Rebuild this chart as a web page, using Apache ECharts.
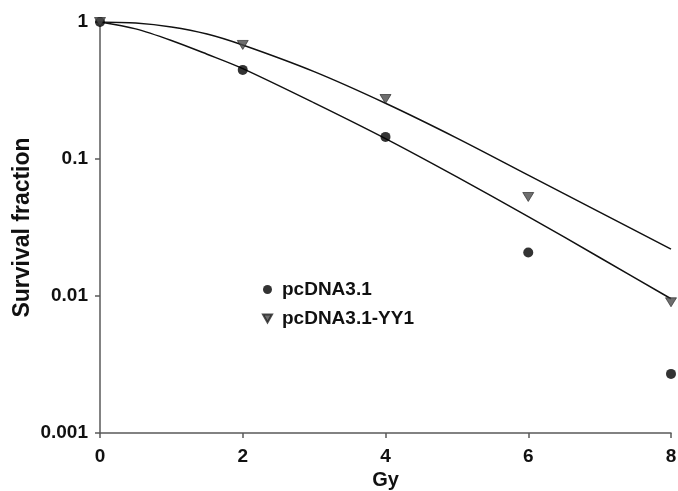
<!DOCTYPE html>
<html>
<head>
<meta charset="utf-8">
<script src="https://cdn.jsdelivr.net/npm/echarts@6/dist/echarts.min.js"></script>
<style>
  html, body { margin: 0; padding: 0; background: #fff; }
  #chart { width: 678px; height: 491px; }
</style>
</head>
<body>
<div id="chart"></div>
<script>
// measured survival points
const doses = [0, 2, 4, 6, 8]
const ctrlSurvival = [1, 0.447, 0.145, 0.0208, 0.0027]
const yy1Survival = [1, 0.68, 0.274, 0.0528, 0.009]

// fitted curves
const fitDoses = [0, 0.5, 1, 1.5, 2, 3, 4, 5, 6, 7, 8]
const ctrlFit = [1, 0.891, 0.733, 0.582, 0.457, 0.257, 0.141, 0.0741, 0.038, 0.0191, 0.00955]
const yy1Fit = [1, 0.983, 0.92, 0.817, 0.679, 0.434, 0.255, 0.142, 0.0762, 0.0409, 0.022]

const xTicks = [0, 2, 4, 6, 8]
const yTicks = [0.001, 0.01, 0.1, 1]

const names = ['pcDNA3.1', 'pcDNA3.1-YY1']
const downTriangle = 'path://M0,0 L10,0 L5,9 Z'

const pair = (xs, ys) => xs.map((x, i) => [x, ys[i]])

const chart = echarts.init(document.getElementById('chart'))

const font = 'Liberation Sans'
const axisColor = '#5a5a5a'

const option = {
  animation: false,
  grid: { left: 100, right: 7, top: 22, bottom: 58, outerBoundsMode: 'none' },
  legend: {
    orient: 'vertical',
    left: 257,
    top: 275,
    itemWidth: 9,
    itemHeight: 9,
    itemGap: 10,
    textStyle: { fontFamily: font, fontWeight: 'bold', fontSize: 19, color: '#111', padding: [0, 0, 0, 5] },
    data: [
      { name: names[0], icon: 'circle' },
      { name: names[1], icon: downTriangle }
    ]
  },
  xAxis: {
    type: 'value',
    min: xTicks[0],
    max: xTicks[xTicks.length - 1],
    interval: 2,
    name: 'Gy',
    nameLocation: 'middle',
    nameGap: 37,
    nameMoveOverlap: false,
    nameTextStyle: { fontFamily: font, fontWeight: 'bold', fontSize: 20, color: '#111' },
    axisLine: { lineStyle: { color: axisColor, width: 1.5 } },
    axisTick: { show: true, length: 5, lineStyle: { color: axisColor, width: 1.5 } },
    axisLabel: { fontFamily: font, fontWeight: 'bold', fontSize: 19, color: '#111', margin: 14 },
    splitLine: { show: false }
  },
  yAxis: {
    type: 'log',
    logBase: 10,
    min: yTicks[0],
    max: yTicks[yTicks.length - 1],
    name: 'Survival fraction',
    nameLocation: 'middle',
    nameGap: 66,
    nameMoveOverlap: false,
    nameTextStyle: { fontFamily: font, fontWeight: 'bold', fontSize: 23, color: '#111' },
    axisLine: { show: true, lineStyle: { color: axisColor, width: 1.5 } },
    axisTick: { show: true, length: 5, lineStyle: { color: axisColor, width: 1.5 } },
    axisLabel: {
      fontFamily: font, fontWeight: 'bold', fontSize: 19, color: '#111', margin: 12,
      formatter: v => String(+v.toPrecision(3))
    },
    splitLine: { show: false }
  },
  series: [
    {
      name: 'ctrl-fit',
      type: 'line',
      smooth: 0.3,
      symbol: 'none',
      lineStyle: { color: '#111', width: 1.5 },
      data: pair(fitDoses, ctrlFit),
      z: 1
    },
    {
      name: 'yy1-fit',
      type: 'line',
      smooth: 0.3,
      symbol: 'none',
      lineStyle: { color: '#111', width: 1.5 },
      data: pair(fitDoses, yy1Fit),
      z: 1
    },
    {
      name: names[0],
      type: 'scatter',
      symbol: 'circle',
      symbolSize: 10,
      itemStyle: { color: '#000' },
      data: pair(doses, ctrlSurvival),
      z: 3
    },
    {
      name: names[1],
      type: 'scatter',
      symbol: downTriangle,
      symbolSize: [11, 9],
      itemStyle: { color: '#4a4a4a', borderColor: '#222', borderWidth: 0.8 },
      data: pair(doses, yy1Survival),
      z: 4
    }
  ]
}

chart.setOption(option)
</script>
</body>
</html>
